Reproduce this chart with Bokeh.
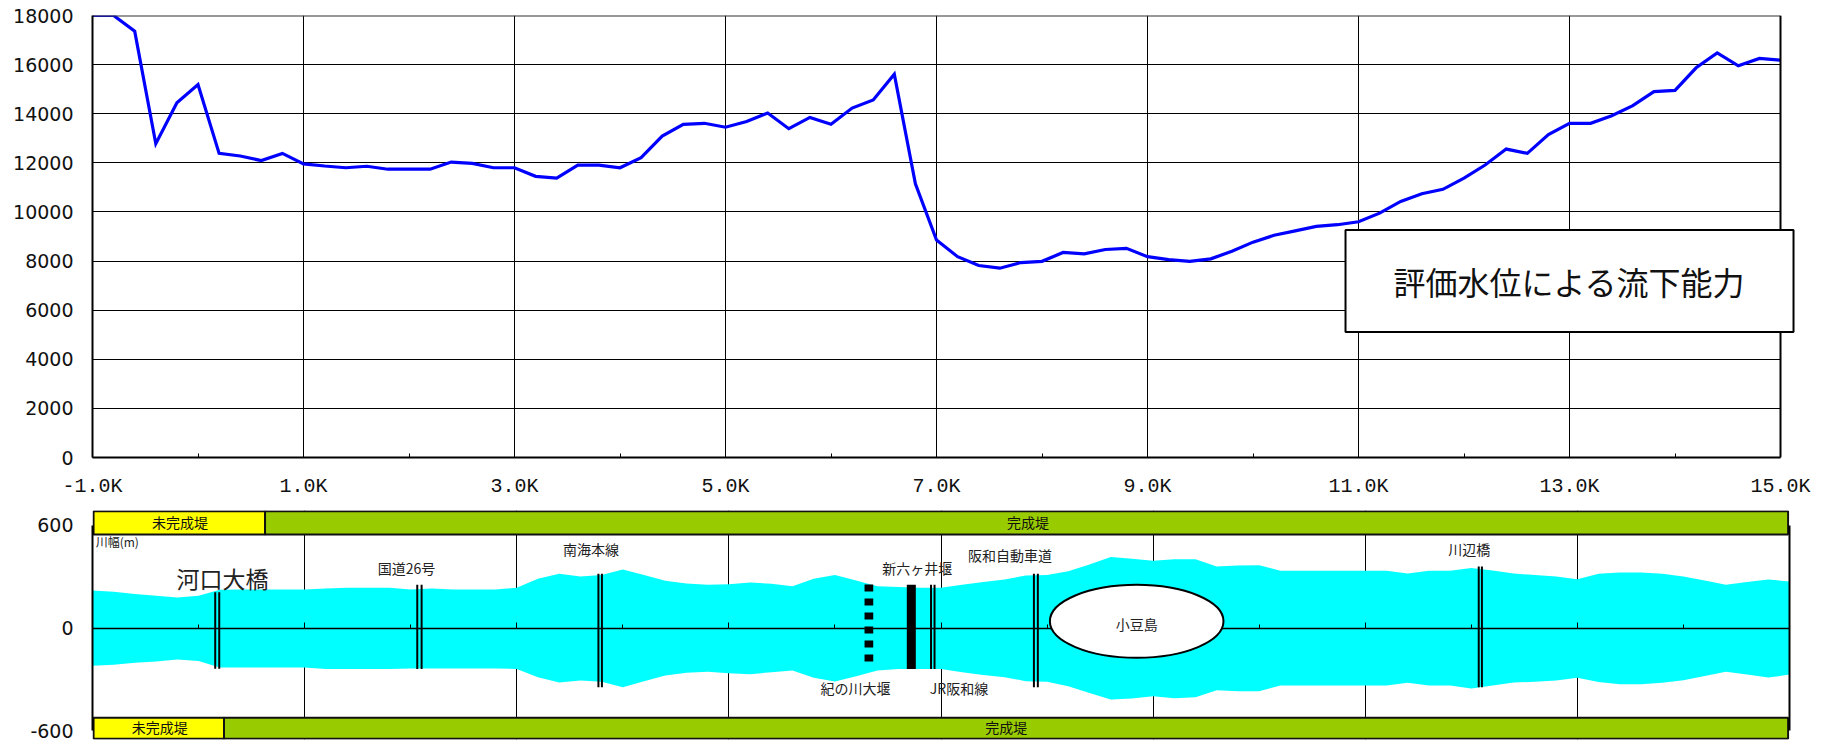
from bokeh.plotting import figure
from bokeh.layouts import column
from bokeh.embed import file_html
from bokeh.resources import INLINE
from bokeh.core.properties import value
from bokeh.models import (FixedTicker, Label, LinearAxis, Range1d, Grid, CustomLabelingPolicy)

# ---- data ----
km = [round(-1.0 + 0.2 * i, 1) for i in range(81)]
capacity = [18000, 18000, 17360, 12780, 14450, 15190, 12385, 12280, 12090, 12385,
            11960, 11870, 11800, 11860, 11740, 11740, 11740, 12030, 11980, 11800,
            11800, 11450, 11380, 11910, 11910, 11800, 12210, 13090, 13570, 13610,
            13450, 13680, 14030, 13390, 13850, 13570, 14230, 14560, 15610, 11150,
            8860, 8180, 7820, 7710, 7940, 7990, 8350, 8290, 8470, 8520,
            8180, 8060, 7990, 8090, 8400, 8770, 9050, 9230, 9410, 9480,
            9600, 9950, 10430, 10740, 10920, 11380, 11910, 12560, 12385, 13150,
            13610, 13610, 13920, 14330, 14900, 14950, 15870, 16480, 15950, 16250, 16180]
width_right = [220, 212, 200, 189, 179, 189, 224, 226, 226, 226,
               226, 232, 236, 236, 236, 226, 232, 226, 226, 226,
               236, 288, 317, 302, 310, 343, 310, 277, 261, 253,
               257, 267, 259, 245, 288, 310, 279, 245, 240, 236,
               236, 253, 269, 284, 308, 310, 333, 372, 415, 405,
               393, 403, 403, 360, 366, 368, 335, 335, 335, 335,
               335, 335, 319, 335, 335, 352, 337, 319, 310, 302,
               286, 317, 325, 325, 317, 302, 279, 253, 269, 284, 273]
width_left = [220, 214, 202, 195, 183, 191, 230, 230, 230, 230,
              230, 238, 238, 238, 238, 236, 236, 236, 236, 236,
              238, 286, 317, 306, 313, 345, 310, 276, 261, 255,
              263, 269, 257, 247, 290, 311, 280, 247, 238, 238,
              238, 257, 273, 286, 310, 313, 339, 378, 417, 411,
              397, 409, 403, 362, 368, 368, 335, 335, 335, 335,
              335, 335, 319, 335, 335, 352, 335, 317, 313, 306,
              290, 315, 327, 327, 319, 304, 279, 255, 271, 288, 271]

y_ticks_top = list(range(0, 18001, 2000))
x_major = [-1, 1, 3, 5, 7, 9, 11, 13, 15]
x_minor = [0, 2, 4, 6, 8, 10, 12, 14]
x_grid = [1, 3, 5, 7, 9, 11, 13]
x_labels = {-1: "-1.0K", 1: "1.0K", 3: "3.0K", 5: "5.0K", 7: "7.0K", 9: "9.0K",
            11: "11.0K", 13: "13.0K", 15: "15.0K"}

# structures: name, km positions of lines, top, bottom
bridges = [("河口大橋", [0.157, 0.195], 210, -237),
           ("国道26号", [2.062, 2.103], 253, -238),
           ("南海本線", [3.77, 3.803], 317, -345),
           ("JR阪和線", [6.906, 6.939], 253, -238),
           ("阪和自動車道", [7.876, 7.913], 317, -345),
           ("川辺橋", [12.07, 12.10], 360, -345)]
weir_new = (6.72, 253, -238)
weir_old = (6.32, 255, -200)
island = (8.845, 40, 1.637, 426)

# embankment strips: (x0, x1, colour, label, label km)
top_strip = [(-0.99, 0.627, "#FFFF00", "未完成堤", -0.175), (0.627, 14.987, "#99CC00", "完成堤", 7.82)]
bot_strip = [(-0.99, 0.24, "#FFFF00", "未完成堤", -0.365), (0.24, 14.987, "#99CC00", "完成堤", 7.615)]

# text labels: text, km, y(m), size
notes = [("河口大橋", 0.226, 293, "23px"),
         ("国道26号", 1.96, 349, "14px"),
         ("南海本線", 3.70, 461, "14px"),
         ("阪和自動車道", 7.65, 428, "14px"),
         ("新六ヶ井堰", 6.775, 349, "14px"),
         ("紀の川大堰", 6.195, -347, "14px"),
         ("JR阪和線", 7.17, -347, "14px"),
         ("川辺橋", 11.98, 461, "14px")]

JP = value("Noto Sans CJK JP")
AXF = "DejaVu Sans"
XF = "Liberation Mono"
NO_LABELS = "for (const i of indices) { indices.unset(i) }\nreturn indices"

# ---- top chart ----
p1 = figure(width=1827, height=500, output_backend="svg", toolbar_location=None,
            frame_width=1703,
            x_range=Range1d(-1, 15.142), y_range=Range1d(0, 18000),
            min_border_left=92, min_border_right=32, min_border_top=15, min_border_bottom=43)
p1.background_fill_color = "white"
p1.outline_line_color = None
p1.xgrid.ticker = FixedTicker(ticks=x_grid)
p1.ygrid.ticker = FixedTicker(ticks=y_ticks_top[1:-1])
p1.ygrid.cross_bounds = (-1, 15)
for g in (p1.xgrid[0], p1.ygrid[0]):
    g.grid_line_color = "black"
    g.grid_line_width = 1

p1.xaxis.ticker = FixedTicker(ticks=x_major, minor_ticks=x_minor)
p1.xaxis.bounds = (-1, 15)
p1.xaxis.major_label_overrides = x_labels
p1.xaxis.major_tick_in = 6
p1.xaxis.major_tick_out = 0
p1.xaxis.minor_tick_in = 4
p1.xaxis.minor_tick_out = 0
p1.xaxis.axis_line_width = 2
p1.xaxis.major_tick_line_color = "black"
p1.xaxis.major_label_standoff = 17
p1.xaxis.major_label_text_font = XF
p1.xaxis.major_label_text_font_size = "20px"
p1.xaxis.major_label_text_color = "#111111"

p1.yaxis.ticker = FixedTicker(ticks=y_ticks_top)
p1.yaxis.major_label_overrides = {v: str(v) for v in y_ticks_top}
p1.yaxis.major_tick_in = 0
p1.yaxis.major_tick_out = 0
p1.yaxis.minor_tick_in = 0
p1.yaxis.minor_tick_out = 0
p1.yaxis.axis_line_width = 2
p1.yaxis.major_label_standoff = 19
p1.yaxis.major_label_text_font = AXF
p1.yaxis.major_label_text_font_size = "19px"
p1.yaxis.major_label_text_color = "#111111"

right1 = LinearAxis(ticker=FixedTicker(ticks=[]), fixed_location=15, axis_line_width=2,
                    major_tick_in=0, major_tick_out=0, minor_tick_in=0, minor_tick_out=0)
top1 = LinearAxis(ticker=FixedTicker(ticks=[]), fixed_location=18000, bounds=(-1, 15), axis_line_width=2,
                  axis_line_color="#333333",
                  major_tick_in=0, major_tick_out=0, minor_tick_in=0, minor_tick_out=0)
p1.add_layout(right1, "right")
p1.add_layout(top1, "above")

p1.line(km, capacity, line_color="#0000FF", line_width=3.2, line_join="miter")

p1.add_layout(Label(x=13.0, y=7185, text="評価水位による流下能力", text_font="Noto Sans CJK JP",
                    text_font_size="32px", text_color="#111111", text_align="center",
                    text_baseline="middle", padding=(48, 28), background_fill_color="white",
                    border_line_color="black", border_line_width=2))

# ---- bottom chart ----
p2 = figure(width=1827, height=241, output_backend="svg", toolbar_location=None,
            x_range=Range1d(-1, 15), y_range=Range1d(-650, 687),
            min_border_left=92, min_border_right=38, min_border_top=10, min_border_bottom=2)
p2.background_fill_color = "white"
p2.outline_line_color = None
p2.ygrid.visible = False
p2.xgrid.visible = False
p2.add_layout(Grid(dimension=0, ticker=FixedTicker(ticks=x_grid),
                   grid_line_color="black", grid_line_width=1))

p2.xaxis.visible = False
zero_axis = LinearAxis(ticker=FixedTicker(ticks=x_major, minor_ticks=x_minor), fixed_location=0,
                       major_tick_in=6, major_tick_out=0, minor_tick_in=4, minor_tick_out=0,
                       major_label_policy=CustomLabelingPolicy(code=NO_LABELS), major_label_standoff=0,
                       axis_line_width=1.5)
p2.add_layout(zero_axis, "below")

p2.yaxis.ticker = FixedTicker(ticks=[-600, 0, 600])
p2.yaxis.major_label_overrides = {-600: "-600", 0: "0", 600: "600"}
p2.yaxis.bounds = (-600, 600)
p2.yaxis.major_tick_in = 0
p2.yaxis.major_tick_out = 0
p2.yaxis.minor_tick_in = 0
p2.yaxis.minor_tick_out = 0
p2.yaxis.axis_line_width = 2
p2.yaxis.major_label_standoff = 19
p2.yaxis.major_label_text_font = AXF
p2.yaxis.major_label_text_font_size = "19px"
p2.yaxis.major_label_text_color = "#111111"
right_axis = LinearAxis(ticker=FixedTicker(ticks=[]), bounds=(-600, 600), axis_line_width=2,
                        major_tick_in=0, major_tick_out=0, minor_tick_in=0, minor_tick_out=0)
p2.add_layout(right_axis, "right")

p2.varea(km, width_right, [-v for v in width_left], fill_color="#00FFFF")

for name, xs, top, bottom in bridges:
    p2.segment(xs, [top] * 2, xs, [bottom] * 2, line_color="black", line_width=2)
p2.segment([weir_new[0]], [weir_new[1]], [weir_new[0]], [weir_new[2]], line_color="black", line_width=9)
p2.segment([weir_old[0]], [weir_old[1]], [weir_old[0]], [weir_old[2]], line_color="black",
           line_width=8.7, line_dash="7 7")

p2.ellipse([island[0]], [island[1]], width=[island[2]], height=[island[3]], fill_color="white",
           line_color="black", line_width=2, level="overlay")
p2.text([island[0]], [island[1] - 15], text=["小豆島"], text_font=JP, text_font_size="14px",
        text_align="center", text_baseline="middle", text_color="#222222", level="overlay")

for t, x, y, size in notes:
    p2.text([x], [y], text=[t], text_font=JP, text_font_size=size, text_align="center",
            text_baseline="middle", text_color="#222222")
p2.text([-0.97], [505], text=["川幅(m)"], text_font=JP, text_font_size="12px",
        text_align="left", text_baseline="middle", text_color="#222222")

for strip, y0, y1, ty in ((top_strip, 547, 683, 619), (bot_strip, -646, -523, -579)):
    for x0, x1, colour, label, lx in strip:
        p2.quad(left=[x0], right=[x1], bottom=[y0], top=[y1], fill_color=colour,
                line_color="#111111", line_width=2)
    for x0, x1, colour, label, lx in strip:
        p2.text([lx], [ty], text=[label], text_font=JP, text_font_size="14px",
                text_align="center", text_baseline="middle", text_color="#111111")

open("out.html", "w").write(file_html(column(p1, p2, spacing=0), INLINE))
